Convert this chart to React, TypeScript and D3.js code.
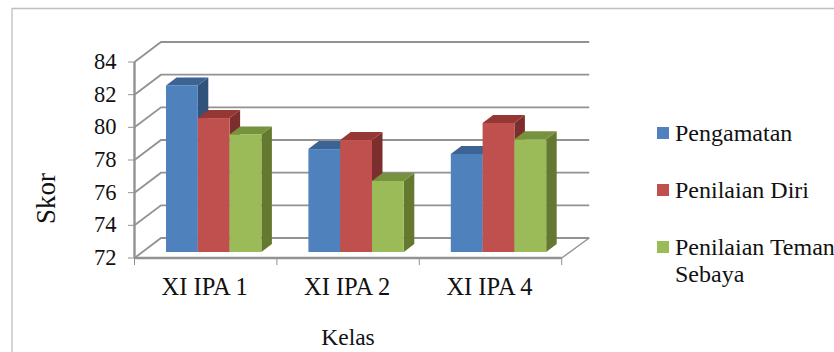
import React from "react";
import * as d3 from "d3";

const categories = ["XI IPA 1", "XI IPA 2", "XI IPA 4"];
const seriesNames = ["Pengamatan", "Penilaian Diri", "Penilaian Teman"];
const pengamatan = [82.2, 78.3, 78.0];
const penilaianDiri = [80.2, 78.85, 79.9];
const penilaianTeman = [79.2, 76.35, 78.9];
const yTicks = [72, 74, 76, 78, 80, 82, 84];

const faceColors = ["#4f81bd", "#c0504d", "#9bbb59"];
const topColors = ["#3b6394", "#953735", "#76923c"];
const sideColors = ["#31527b", "#7b2e2c", "#64792f"];

const FONT = "'Liberation Serif', 'Times New Roman', serif";
const GRID = "#929292";

// Oblique projection of the 3D box
const wallDx = 26.5;
const wallDy = -20;
const barShiftY = -6;
const barDepthX = 10.5;
const barDepthY = -8;
const barWidth = 31.8;
const groupInset = 31.5;

const x = d3.scaleBand<string>().domain(categories).range([134.5, 561.7]);
const y = d3.scaleLinear().domain([72, 84]).range([258, 62]);

const seriesValues = [pengamatan, penilaianDiri, penilaianTeman];
const poly = d3.line();

function Bar({ left, value, s }: { left: number; value: number; s: number }) {
  const base = y(72) + barShiftY;
  const top = y(value) + barShiftY;
  const right = left + barWidth;
  return (
    <g>
      <path
        d={poly([[right, top], [right + barDepthX, top + barDepthY], [right + barDepthX, base + barDepthY], [right, base]]) + "Z"}
        fill={sideColors[s]}
      />
      <path
        d={poly([[left, top], [left + barDepthX, top + barDepthY], [right + barDepthX, top + barDepthY], [right, top]]) + "Z"}
        fill={topColors[s]}
      />
      <rect x={left} y={top} width={barWidth} height={base - top} fill={faceColors[s]} />
    </g>
  );
}

export default function App() {
  const [x0, x1] = x.range();
  const legendY = [133, 190, 247];
  return (
    <svg width={834} height={352} style={{ position: "absolute", left: 0, top: 0, background: "#fff" }} fontFamily={FONT} fill="#111">
      {/* chart frame, open on the right and bottom */}
      <path d="M12 352V8.5H834" fill="none" stroke="#bfbfbf" strokeWidth={1.3} />

      {/* back-wall gridlines with their diagonal side-wall runs */}
      {yTicks.map((t) => (
        <g key={t} fill="none" stroke={GRID} strokeWidth={1.8}>
          <path d={poly([[x0, y(t)], [x0 + wallDx, y(t) + wallDy], [x1 + wallDx + 1, y(t) + wallDy]]) ?? ""} />
          <line x1={x0 - 6.5} x2={x0} y1={y(t)} y2={y(t)} strokeWidth={1} />
        </g>
      ))}

      {/* floor and left wall edge */}
      <g fill="none" stroke={GRID}>
        <line x1={x1} y1={y(72)} x2={x1 + wallDx + 1} y2={y(72) + wallDy} strokeWidth={1.4} />
        <line x1={x0} y1={y(72)} x2={x1} y2={y(72)} strokeWidth={2.4} />
        <line x1={x0} y1={y(84)} x2={x0} y2={y(72)} strokeWidth={2.4} />
        {[...categories.map((c) => x(c) as number), x1].map((p) => (
          <line key={p} x1={p} x2={p} y1={y(72)} y2={y(72) + 7} strokeWidth={1} />
        ))}
      </g>

      {categories.map((c, i) => (
        <g key={c}>
          {seriesValues.map((vals, s) => (
            <Bar key={s} s={s} value={vals[i]} left={(x(c) as number) + groupInset + s * barWidth} />
          ))}
        </g>
      ))}

      {yTicks.map((t) => (
        <text key={t} x={116.5} y={y(t) + 7} fontSize={22.5} textAnchor="end">{t}</text>
      ))}
      {categories.map((c) => (
        <text key={c} x={(x(c) as number) + x.bandwidth() / 2 - 1} y={295} fontSize={24.5} textAnchor="middle">{c}</text>
      ))}

      <text x={348} y={345} fontSize={23.5} textAnchor="middle">Kelas</text>
      <text transform="translate(54.5,198.5) rotate(-90)" fontSize={27} textAnchor="middle">Skor</text>

      {/* legend */}
      {seriesNames.map((n, s) => (
        <g key={n}>
          <rect x={657} y={legendY[s] - 6} width={12} height={12} fill={faceColors[s]} />
          <text x={675} y={legendY[s] + 8} fontSize={24}>{n}</text>
        </g>
      ))}
      <text x={675} y={282} fontSize={24}>Sebaya</text>
    </svg>
  );
}
